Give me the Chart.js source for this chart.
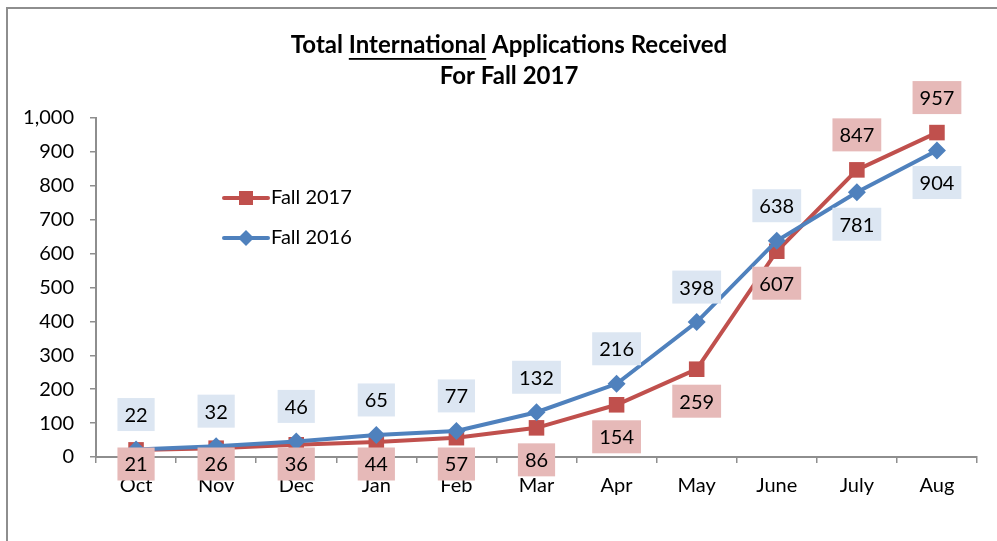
<!DOCTYPE html>
<html>
<head>
<meta charset="utf-8">
<script src="https://cdn.jsdelivr.net/npm/chart.js@4.4.0/dist/chart.umd.min.js"></script>
<style>
    html, body { margin: 0; padding: 0; background: #fff; overflow: hidden; }
    #wrap { position: relative; width: 997px; height: 541px; }
    #frame { position: absolute; left: 6px; top: 7px; width: 1000px; height: 600px;
             border-left: 2px solid #8e8e8e; border-top: 2px solid #8e8e8e; }
    canvas { position: absolute; left: 0; top: 0; }
</style>
</head>
<body>
<div id="wrap">
    <div id="frame"></div>
    <canvas id="appsChart" width="997" height="541"></canvas>
</div>
<script>
// chart data
const months = ['Oct', 'Nov', 'Dec', 'Jan', 'Feb', 'Mar', 'Apr', 'May', 'June', 'July', 'Aug'];
const fall2017 = [21, 26, 36, 44, 57, 86, 154, 259, 607, 847, 957];
const fall2016 = [22, 32, 46, 65, 77, 132, 216, 398, 638, 781, 904];
const yTicks = [0, 100, 200, 300, 400, 500, 600, 700, 800, 900, 1000];

const RED = '#C0504D';
const BLUE = '#4F81BD';
const FONT = 'Lato, "Open Sans", sans-serif';

// title with underlined word
const titlePlugin = {
    id: 'titlePlugin',
    afterDraw(chart) {
        const ctx = chart.ctx;
        ctx.save();
        ctx.font = 'bold 24px ' + FONT;
        ctx.fillStyle = '#000';
        ctx.textBaseline = 'middle';
        ctx.textAlign = 'left';
        const cx = 509;
        const parts = ['Total ', 'International', ' Applications Received'];
        const widths = parts.map(p => ctx.measureText(p).width);
        let x = cx - widths.reduce((a, b) => a + b, 0) / 2;
        parts.forEach((p, i) => {
            ctx.fillText(p, x, 45);
            if (i === 1) {
                ctx.fillRect(x, 58, widths[i], 1.8);
            }
            x += widths[i];
        });
        ctx.textAlign = 'center';
        ctx.fillText('For Fall 2017', cx, 76);
        ctx.restore();
    }
};

// legend drawn inside the plot
const legendPlugin = {
    id: 'legendPlugin',
    afterDraw(chart) {
        const ctx = chart.ctx;
        const items = [
            { label: 'Fall 2017', color: RED, shape: 'square', y: 198 },
            { label: 'Fall 2016', color: BLUE, shape: 'diamond', y: 238 }
        ];
        ctx.save();
        items.forEach(it => {
            ctx.strokeStyle = it.color;
            ctx.lineWidth = 4;
            ctx.lineCap = 'round';
            ctx.beginPath();
            ctx.moveTo(224, it.y);
            ctx.lineTo(268, it.y);
            ctx.stroke();
            ctx.fillStyle = it.color;
            if (it.shape === 'square') {
                ctx.fillRect(246 - 7, it.y - 7, 14, 14);
            } else {
                ctx.beginPath();
                ctx.moveTo(246, it.y - 8);
                ctx.lineTo(254, it.y);
                ctx.lineTo(246, it.y + 8);
                ctx.lineTo(238, it.y);
                ctx.closePath();
                ctx.fill();
            }
            ctx.fillStyle = '#000';
            ctx.font = '20px ' + FONT;
            ctx.textAlign = 'left';
            ctx.textBaseline = 'middle';
            ctx.fillText(it.label, 271, it.y);
        });
        ctx.restore();
    }
};

// value labels with coloured boxes
const valueLabels = {
    id: 'valueLabels',
    afterDatasetsDraw(chart) {
        const ctx = chart.ctx;
        const boxColors = ['#E6B9B8', '#DCE6F2'];
        ctx.save();
        ctx.font = '20px ' + FONT;
        ctx.textAlign = 'center';
        ctx.textBaseline = 'middle';
        chart.data.datasets.forEach((ds, di) => {
            const other = chart.data.datasets[1 - di].data;
            const meta = chart.getDatasetMeta(di);
            meta.data.forEach((pt, i) => {
                const v = ds.data[i];
                const above = v >= other[i];
                let y = above ? pt.y - 35 : Math.min(pt.y + 32, 464);
                const text = String(v);
                const w = ctx.measureText(text).width + 14;
                const h = 33;
                ctx.fillStyle = boxColors[di];
                ctx.fillRect(pt.x - w / 2, y - h / 2, w, h);
                ctx.fillStyle = '#000';
                ctx.fillText(text, pt.x, y + 1);
            });
        });
        ctx.restore();
    }
};

const chartCanvas = document.getElementById('appsChart');
new Chart(chartCanvas, {
    type: 'line',
    data: {
        labels: months,
        datasets: [
            {
                label: 'Fall 2017',
                data: fall2017,
                borderColor: RED,
                backgroundColor: RED,
                borderWidth: 4,
                tension: 0,
                pointStyle: 'rect',
                pointRadius: 11,
                pointBorderWidth: 0,
                order: 1
            },
            {
                label: 'Fall 2016',
                data: fall2016,
                borderColor: BLUE,
                backgroundColor: BLUE,
                borderWidth: 4,
                tension: 0,
                pointStyle: 'rectRot',
                pointRadius: 9,
                pointBorderWidth: 0,
                order: 0
            }
        ]
    },
    options: {
        responsive: false,
        animation: false,
        layout: {
            padding: { left: 0, top: 118, right: 20, bottom: 0 }
        },
        plugins: {
            legend: { display: false },
            title: { display: false },
            tooltip: { enabled: false }
        },
        scales: {
            x: {
                offset: true,
                grid: {
                    drawOnChartArea: false,
                    tickLength: 6,
                    color: '#8e8e8e',
                    lineWidth: 1.5,
                    offset: true
                },
                border: { color: '#8e8e8e', width: 2 },
                ticks: {
                    color: '#000',
                    padding: 11,
                    font: { family: FONT, size: 20 },
                    maxRotation: 0
                },
                afterFit: function (scale) {
                    scale.height = 84;
                }
            },
            y: {
                min: 0,
                max: 1000,
                afterBuildTicks: function (scale) {
                    scale.ticks = yTicks.map(v => ({ value: v }));
                },
                grid: {
                    drawOnChartArea: false,
                    tickLength: 6,
                    color: '#8e8e8e',
                    lineWidth: 1.5
                },
                border: { color: '#8e8e8e', width: 2 },
                ticks: {
                    color: '#000',
                    padding: 16,
                    font: { family: FONT, size: 20 },
                    callback: function (value) {
                        return value.toLocaleString('en-US');
                    }
                },
                afterFit: function (scale) {
                    scale.width = 96;
                }
            }
        }
    },
    plugins: [valueLabels, titlePlugin, legendPlugin]
});
</script>
</body>
</html>
